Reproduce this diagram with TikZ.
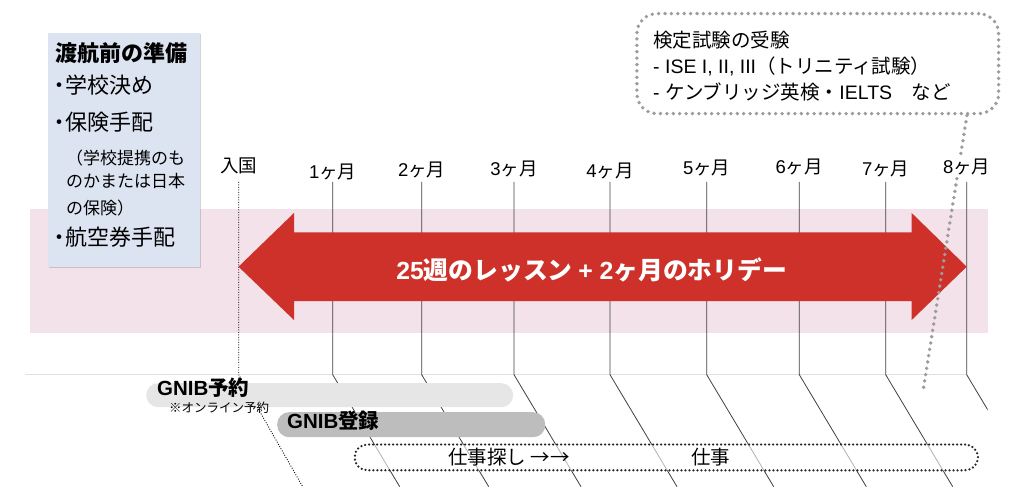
\documentclass[tikz,border=0pt]{standalone}
\usepackage{fontspec}
\setmainfont{Noto Sans CJK JP}
\newfontfamily\lat{Liberation Sans}
\usetikzlibrary{shadows}
\newcommand\setfs[1]{\fontsize{#1}{#1}\selectfont}
\newcommand\jst{\vrule width0pt height0.88em depth0.12em\relax}
\definecolor{pinkbg}{HTML}{F3E2EA}
\definecolor{bluebox}{HTML}{DCE3F1}
\definecolor{redarrow}{HTML}{CD3129}
\definecolor{calloutgray}{HTML}{9C9C9C}
\definecolor{barlight}{HTML}{E6E6E6}
\definecolor{bardark}{HTML}{BDBDBD}
\begin{document}
\begin{tikzpicture}[x=1pt,y=-1pt,
  jt/.style={inner sep=0pt, font=\setfs{#1}, execute at begin node=\jst},
  mlabel/.style={jt=18.5, fill=white, inner sep=0.5pt},
  mline/.style={draw=black!75, line width=0.8pt},
  entrydot/.style={draw=black, line width=0.9pt, dash pattern=on 0.9pt off 1.6pt},
  groundline/.style={draw=black!12, line width=1.5pt},
  prepbox/.style={fill=bluebox, inner sep=0pt, anchor=north west,
    drop shadow={shadow xshift=0.8pt, shadow yshift=-1.2pt, opacity=0.35}},
  calldot/.style={draw=calloutgray, line width=3.8pt, dash pattern=on 0pt off 6.4pt, line cap=round},
  callbox/.style={calldot, rounded corners=20pt, inner sep=0pt, anchor=north west},
  bar/.style={inner sep=0pt, rounded corners=12pt, anchor=north west},
  jobbox/.style={draw=black!85, line width=2.5pt, dash pattern=on 0pt off 4pt, line cap=round,
    fill=white, fill opacity=0.6, rounded corners=12.8pt, inner sep=0pt, anchor=north west},
]
\useasboundingbox (0,0) rectangle (1025,494);

% pink band
\fill[pinkbg] (30,209) rectangle (987.7,333.3);

\coordinate (ltop) at (0,182);
\coordinate (gline) at (0,374.7);
\coordinate (gleft) at (25,374.7);
\coordinate (gright) at (967,374.7);
\draw[groundline] (gleft) -- (gright);

\path (238.7,165) coordinate (p0)
      (332.7,171) coordinate (p1)
      (421.7,169.5) coordinate (p2)
      (514,168.5) coordinate (p3)
      (610,170) coordinate (p4)
      (706.7,167) coordinate (p5)
      (799.3,166) coordinate (p6)
      (885.7,168) coordinate (p7)
      (966.7,166) coordinate (p8);

\begin{scope}
\clip (0,0) rectangle (987.5,494);
\foreach \n in {p1,p2,p3,p4,p5,p6,p7,p8}
  \draw[mline] (\n |- ltop) -- (\n |- gline) -- ++(67,112);
\end{scope}
\draw[entrydot] (p0 |- ltop) -- (p0 |- gline) -- ++(64,112);

% red double arrow
\fill[redarrow] (238.5,266.7) -- (294,213) -- (294,232.3) -- (911.7,232.3) -- (911.7,213)
  -- (966.7,266.7) -- (911.7,320) -- (911.7,301) -- (294,301) -- (294,320) -- cycle;
\node[jt=24.8, text=white, font=\setfs{24.8}\bfseries] (lesson) at (591.7,270) {{\lat 25}週のレッスン {\lat + 2}ヶ月のホリデー};

% preparation box
\node[prepbox, minimum width=152pt, minimum height=234pt] (prep) at (48,33) {};
\node[jt=22, font=\setfs{22}\bfseries, anchor=west] (prept) at (55,53) {渡航前の準備};
\node[jt=22, anchor=west] (prep1) at (48,85) {・\hspace{-5pt}学校決め};
\node[jt=22, anchor=west] (prep2) at (48,122) {・\hspace{-5pt}保険手配};
\node[jt=17, anchor=west] (prep2a) at (66,158) {（学校提携のも};
\node[jt=17, anchor=west] (prep2b) at (66,181.5) {のかまたは日本};
\node[jt=17, anchor=west] (prep2c) at (66,208) {の保険）};
\node[jt=22, anchor=west] (prep3) at (48,237) {・\hspace{-5pt}航空券手配};

% callout
\node[callbox, minimum width=361.7pt, minimum height=100pt] (callout) at (635,11.7) {};
\coordinate (tailend) at (922.7,393);
\draw[calldot] ([xshift=149.2pt]callout.south) -- (tailend);
\node[jt=19.5, anchor=west] (c1) at (653,40) {検定試験の受験};
\node[jt=19.5, anchor=west] (c2) at (653,66) {{\lat - ISE I, II, III}（トリニティ試験）};
\node[jt=19.5, anchor=west] (c3) at (653,92) {{\lat - }ケンブリッジ英検・{\lat IELTS}　など};

% month labels
\node[mlabel] (m0) at (p0) {入国};
\node[mlabel] (m1) at (p1) {{\lat 1}ヶ月};
\node[mlabel] (m2) at (p2) {{\lat 2}ヶ月};
\node[mlabel] (m3) at (p3) {{\lat 3}ヶ月};
\node[mlabel] (m4) at (p4) {{\lat 4}ヶ月};
\node[mlabel] (m5) at (p5) {{\lat 5}ヶ月};
\node[mlabel] (m6) at (p6) {{\lat 6}ヶ月};
\node[mlabel] (m7) at (p7) {{\lat 7}ヶ月};
\node[mlabel] (m8) at (p8) {{\lat 8}ヶ月};

% GNIB bars
\node[bar, fill=barlight, minimum width=367pt, minimum height=24pt] (bar1) at (146,383) {};
\node[bar, fill=bardark, minimum width=268pt, minimum height=25pt] (bar2) at (277,412) {};
\node[jt=20.5, font=\setfs{20.5}\bfseries, anchor=west] (gnib1) at (157,387.5) {{\lat GNIB}予約};
\node[jt=12.5, anchor=west] (gnib1n) at (169,407.5) {※オンライン予約};
\node[jt=20.5, font=\setfs{20.5}\bfseries, anchor=west] (gnib2) at (287,421) {{\lat GNIB}登録};

% job box
\node[jobbox, minimum width=623.4pt, minimum height=25.7pt] (job) at (353.3,443.3) {};
\node[jt=19.5, anchor=west] (job1) at (448,457) {仕事探し →→};
\node[jt=19.5] (job2) at (710.5,457) {仕事};
\end{tikzpicture}
\end{document}
